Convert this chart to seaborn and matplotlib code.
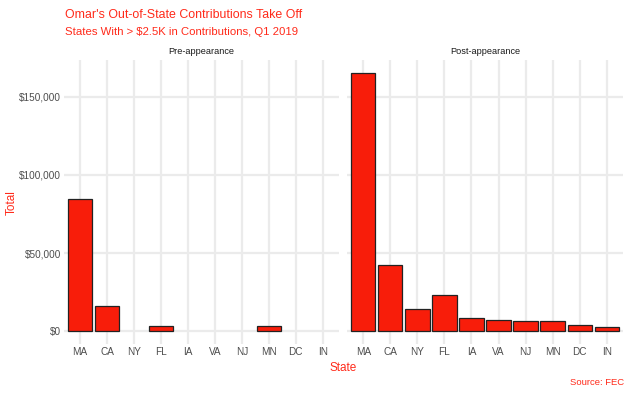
import matplotlib
matplotlib.use("Agg")
import matplotlib.pyplot as plt
import seaborn as sns
import pandas as pd
from matplotlib.ticker import FuncFormatter

# data
states = ["MA", "CA", "NY", "FL", "IA", "VA", "NJ", "MN", "DC", "IN"]
pre_states = ["MA", "CA", "FL", "MN"]
pre_totals = [84600, 16000, 3000, 3500]
post_totals = [165400, 42300, 14100, 23400, 8100, 6900, 6400, 6400, 3600, 2600]

pre = pd.DataFrame({"State": pre_states, "Total": pre_totals})
post = pd.DataFrame({"State": states, "Total": post_totals})

red = "#F81D0A"
txt_red = "#FF2A1A"
grey = "#4D4D4D"

sns.set_style("white")
plt.rcParams["font.family"] = ["Liberation Sans", "DejaVu Sans"]

fig = plt.figure(figsize=(6.3, 3.94), dpi=100)
ax1 = fig.add_axes([0.1013, 0.1269, 0.4368, 0.7208])
ax2 = fig.add_axes([0.5508, 0.1269, 0.4381, 0.7208])

for ax, df, name in [(ax1, pre, "Pre-appearance"), (ax2, post, "Post-appearance")]:
    sns.barplot(data=df, x="State", y="Total", order=states, color=red,
                edgecolor="#222222", linewidth=0.9, width=0.9, saturation=1,
                errorbar=None, ax=ax, zorder=3)
    ax.set_xlim(-0.6, 9.6)
    ax.set_ylim(-8270, 173670)
    ax.set_yticks([0, 50000, 100000, 150000])
    ax.grid(True, color="#EBEBEB", linewidth=1.6, zorder=0)
    ax.set_axisbelow(True)
    for s in ax.spines.values():
        s.set_visible(False)
    ax.tick_params(length=0, labelsize=7.2, colors=grey, pad=2)
    ax.set_xlabel("")
    ax.set_ylabel("")
    ax.set_title(name, fontsize=6.6, color="#1A1A1A", pad=4)

ax1.yaxis.set_major_formatter(FuncFormatter(lambda v, p: f"${v:,.0f}"))
ax2.set_yticklabels([])

fig.text(0.019, 0.485, "Total", color=txt_red, fontsize=8.5, rotation=90,
         ha="center", va="center")
fig.text(0.545, 0.058, "State", color=txt_red, fontsize=8.5, ha="center")
fig.text(0.103, 0.955, "Omar's Out-of-State Contributions Take Off",
         color=txt_red, fontsize=8.9)
fig.text(0.103, 0.912, "States With > $2.5K in Contributions, Q1 2019",
         color=txt_red, fontsize=8.2)
fig.text(0.99, 0.022, "Source: FEC", color=txt_red, fontsize=6.8, ha="right")

fig.savefig("out.png", dpi=100)
